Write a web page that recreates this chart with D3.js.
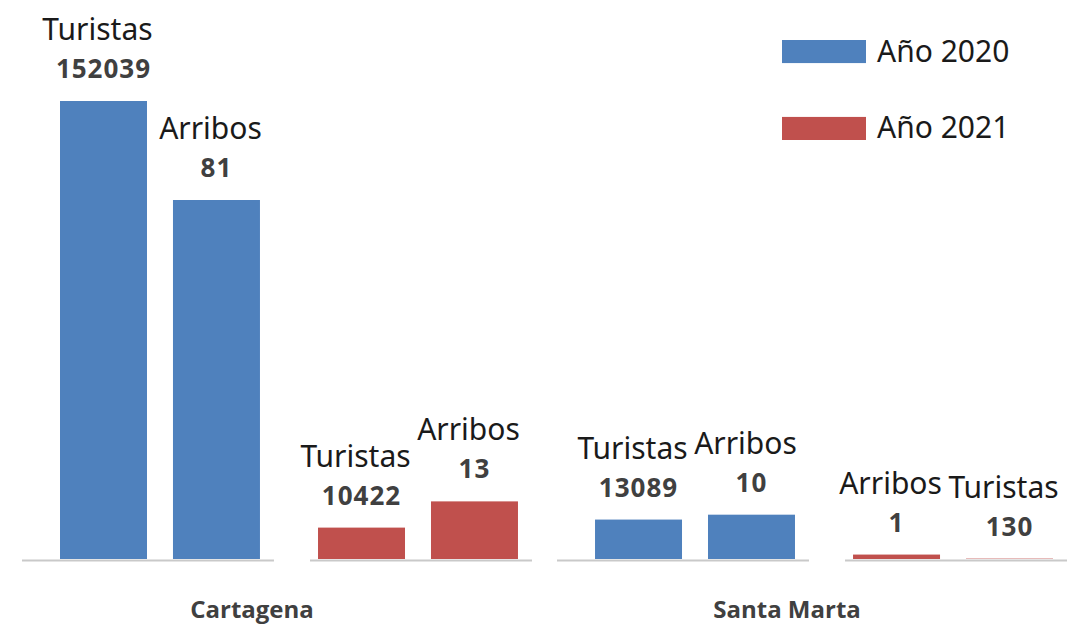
<!DOCTYPE html>
<html>
<head>
<meta charset="utf-8">
<script src="https://cdn.jsdelivr.net/npm/d3@7"></script>
<style>
  body { margin: 0; background: #fff; }
  svg { display: block; }
</style>
</head>
<body>
<div id="chart"></div>
<script>
// data
const ciudades = ["Cartagena", "Santa Marta"];
const anios = ["Año 2020", "Año 2021"];
const colores = ["#4f81bd", "#c0504d"];
// bar order inside each (city, year) pair, as in the picture
const ordenMetricas = [
  [["Turistas", "Arribos"], ["Turistas", "Arribos"]],
  [["Turistas", "Arribos"], ["Arribos", "Turistas"]]
];
const turistas = [[152039, 10422], [13089, 130]];
const arribos = [[81, 13], [10, 1]];

const width = 1068, height = 624;
const baseY = 559;

const svg = d3.select("#chart").append("svg")
  .attr("width", width)
  .attr("height", height);

// each metric has its own scale
let yScale = {
  "Turistas": d3.scaleLinear().domain([0, d3.max(turistas.flat())]).range([baseY, 101]),
  "Arribos": d3.scaleLinear().domain([0, d3.max(arribos.flat())]).range([baseY, 200])
};

let xCiudad = d3.scaleBand().domain(ciudades).range([60, 1053]).paddingInner(0.144).paddingOuter(0);
let xAnio = d3.scaleBand().domain(anios).range([0, xCiudad.bandwidth()]).paddingInner(0.225).paddingOuter(0);
let xBarra = d3.scaleBand().domain([0, 1]).range([0, xAnio.bandwidth()]).paddingInner(0.23).paddingOuter(0);

let bars = [];
ciudades.forEach((c, ci) => {
  anios.forEach((a, ai) => {
    ordenMetricas[ci][ai].forEach((m, k) => {
      let v = m == "Turistas" ? turistas[ci][ai] : arribos[ci][ai];
      bars.push({ ciudad: c, anio: a, ai: ai, metrica: m, k: k, valor: v });
    });
  });
});

const barX = d => xCiudad(d.ciudad) + xAnio(d.anio) + xBarra(d.k);

// baselines, one per pair
let pares = [];
ciudades.forEach(c => anios.forEach(a => pares.push({ ciudad: c, anio: a })));
svg.selectAll("line.base")
  .data(pares)
  .enter()
  .append("line")
    .attr("class", "base")
    .attr("x1", (d, i) => xCiudad(d.ciudad) + xAnio(d.anio) - (i % 2 == 0 ? 38 : 8))
    .attr("x2", d => xCiudad(d.ciudad) + xAnio(d.anio) + xAnio.bandwidth() + 14)
    .attr("y1", baseY + 1.5)
    .attr("y2", baseY + 1.5)
    .attr("stroke", "#c9c9c9")
    .attr("stroke-width", 2);

svg.selectAll("rect.bar")
  .data(bars)
  .enter()
  .append("rect")
    .attr("class", "bar")
    .attr("x", barX)
    .attr("width", xBarra.bandwidth())
    .attr("y", d => yScale[d.metrica](d.valor))
    .attr("height", d => baseY - yScale[d.metrica](d.valor))
    .attr("fill", d => colores[d.ai]);

// value labels
svg.selectAll("text.valor")
  .data(bars)
  .enter()
  .append("text")
    .attr("class", "valor")
    .attr("x", d => barX(d) + xBarra.bandwidth() / 2)
    .attr("y", d => yScale[d.metrica](d.valor) - 23)
    .attr("text-anchor", "middle")
    .attr("font-family", "'Open Sans', sans-serif")
    .attr("font-weight", "bold")
    .attr("font-size", "26px")
    .attr("letter-spacing", "1px")
    .attr("fill", "#404040")
    .text(d => d.valor);

// metric name labels
svg.selectAll("text.metrica")
  .data(bars)
  .enter()
  .append("text")
    .attr("class", "metrica")
    .attr("x", d => barX(d) + xBarra.bandwidth() / 2 - 6)
    .attr("y", d => yScale[d.metrica](d.valor) - 61)
    .attr("text-anchor", "middle")
    .attr("font-family", "'Noto Sans', sans-serif")
    .attr("font-size", "30px")
    .attr("fill", "#1a1a1a")
    .text(d => d.metrica);

// city labels
svg.selectAll("text.ciudad")
  .data(ciudades)
  .enter()
  .append("text")
    .attr("class", "ciudad")
    .attr("x", d => xCiudad(d) + 192)
    .attr("y", 618)
    .attr("text-anchor", "middle")
    .attr("font-family", "'Open Sans', sans-serif")
    .attr("font-weight", "bold")
    .attr("font-size", "24px")
    .attr("fill", "#404040")
    .text(d => d);

// legend
let yLeyenda = d3.scaleBand().domain(anios).range([40, 140]).paddingInner(0.7);
let leyenda = svg.selectAll("g.leyenda")
  .data(anios)
  .enter()
  .append("g")
    .attr("class", "leyenda")
    .attr("transform", d => `translate(782, ${yLeyenda(d)})`);

leyenda.append("rect")
  .attr("width", 84)
  .attr("height", yLeyenda.bandwidth())
  .attr("fill", (d, i) => colores[i]);

leyenda.append("text")
  .attr("x", 95)
  .attr("y", yLeyenda.bandwidth() / 2 + 10)
  .attr("font-family", "'Noto Sans', sans-serif")
  .attr("font-size", "30px")
  .attr("fill", "#1a1a1a")
  .text(d => d);
</script>
</body>
</html>
